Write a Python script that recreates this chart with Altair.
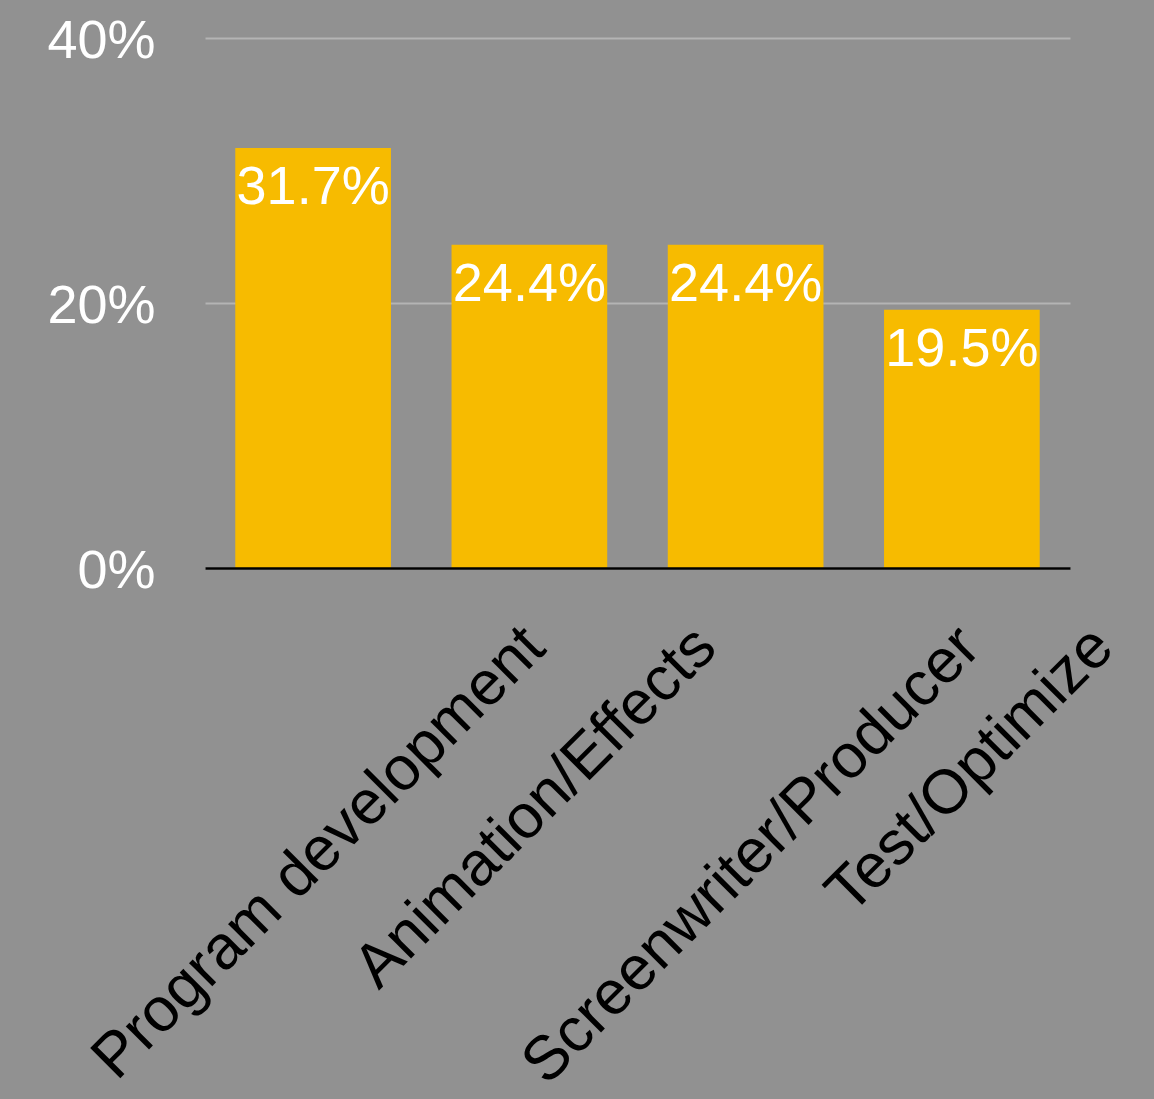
import altair as alt
import pandas as pd

categories = ["Program development", "Animation/Effects", "Screenwriter/Producer", "Test/Optimize"]
shares = [0.317, 0.244, 0.244, 0.195]
y_ticks = [0, 0.2, 0.4]

FONT = "Liberation Sans"
X_FONT_SIZE = 62

# Helvetica/Arial advance widths (1/1000 em) used to centre rotated labels on their bars
ARIAL = {
    "a": 556, "b": 556, "c": 500, "d": 556, "e": 556, "f": 278, "g": 556, "h": 556,
    "i": 222, "j": 222, "k": 500, "l": 222, "m": 833, "n": 556, "o": 556, "p": 556,
    "q": 556, "r": 333, "s": 500, "t": 278, "u": 556, "v": 500, "w": 722, "x": 500,
    "y": 500, "z": 500, "P": 667, "A": 667, "E": 667, "S": 667, "T": 611, "O": 778,
    " ": 278, "/": 278,
}


def text_width(s, size):
    return sum(ARIAL.get(ch, 556) for ch in s) * size / 1000.0


expr = ""
for c in categories:
    off = 0.354 * text_width(c, X_FONT_SIZE) + 19
    expr += f"datum.label === '{c}' ? {off:.1f} : "
expr += "0"

df = pd.DataFrame({"category": categories, "share": shares})

base = alt.Chart(df).encode(
    x=alt.X(
        "category:N",
        sort=categories,
        scale=alt.Scale(paddingInner=0.28, paddingOuter=0.14),
        axis=alt.Axis(
            title=None,
            labelAngle=315,
            labelAlign="right",
            labelBaseline="alphabetic",
            labelOffset={"expr": expr},
            labelPadding=82,
            ticks=False,
            tickSize=0,
            domainColor="black",
            domainWidth=2.5,
            labelColor="black",
            labelFontSize=X_FONT_SIZE,
            labelFont=FONT,
            labelLimit=0,
            grid=False,
            zindex=1,
        ),
    ),
    y=alt.Y(
        "share:Q",
        scale=alt.Scale(domain=[0, 0.4], nice=False),
        axis=alt.Axis(
            title=None,
            values=y_ticks,
            format=".0%",
            domain=False,
            ticks=False,
            labelAlign="right",
            labelBaseline="middle",
            labelPadding=50,
            labelOffset=3,
            labelFontSize=54,
            labelFont=FONT,
            labelColor="white",
            grid=True,
            gridColor="#b4b4b4",
            gridWidth=2,
        ),
    ),
)

bars = base.mark_bar(color="#F7BB00")
labels = base.mark_text(
    color="white", fontSize=54, font=FONT, baseline="top", align="center", dy=13
).encode(text=alt.Text("share:Q", format=".1%"))

chart = (
    alt.layer(bars, labels)
    .properties(
        width=865,
        height=530,
        autosize=alt.AutoSizeParams(type="none"),
        padding={"left": 205, "top": 38, "right": 84, "bottom": 531},
    )
    .configure(background="#919191")
    .configure_view(stroke=None)
)

chart.save("out.html", embed_options={"renderer": "svg", "actions": False})
